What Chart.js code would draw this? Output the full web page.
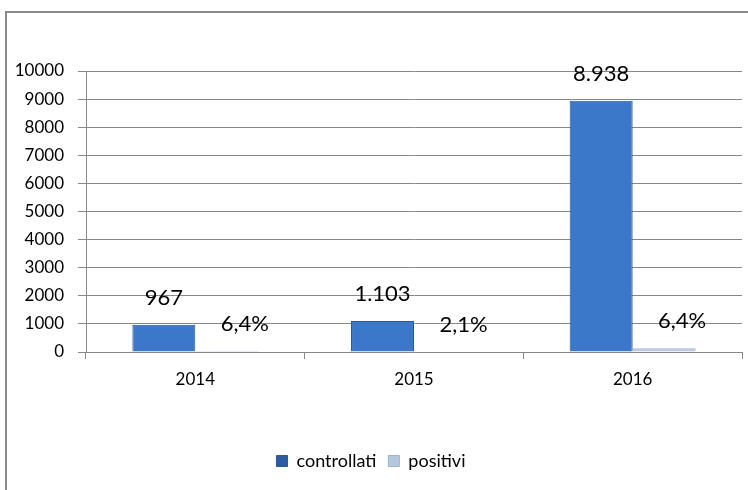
<!DOCTYPE html>
<html>
<head>
<meta charset="utf-8">
<script src="https://cdn.jsdelivr.net/npm/chart.js@4"></script>
<style>
  html, body { margin: 0; padding: 0; background: #fff; }
  #wrap { position: relative; width: 748px; height: 490px; overflow: hidden; }
  #frame { position: absolute; left: 5px; top: 11px; width: 800px; height: 600px; border: 2px solid #8a8a8a; box-sizing: border-box; }
  canvas { position: absolute; left: 0; top: 0; }
</style>
</head>
<body>
<div id="wrap">
  <div id="frame"></div>
  <canvas id="c" width="748" height="490"></canvas>
</div>
<script>
const categories = ["2014", "2015", "2016"];
const controllati = [967, 1103, 8938];
const positivi = [40, 20, 130];
const controllatiLabels = ["967", "1.103", "8.938"];
const positiviLabels = ["6,4%", "2,1%", "6,4%"];
const seriesNames = ["controllati", "positivi"];

const FONT = "Lato, 'Open Sans', sans-serif";

const valueLabels = {
  id: 'valueLabels',
  afterDatasetsDraw(chart) {
    const ctx = chart.ctx;
    ctx.save();
    ctx.font = "22px " + FONT;
    ctx.fillStyle = "#000";
    ctx.textAlign = "center";
    ctx.textBaseline = "middle";
    const sets = [
      { meta: chart.getDatasetMeta(0), labels: controllatiLabels, dx: 0 },
      { meta: chart.getDatasetMeta(1), labels: positiviLabels, dx: 18 }
    ];
    sets.forEach(s => {
      s.meta.data.forEach((bar, i) => {
        ctx.fillText(s.labels[i], bar.x + s.dx, bar.y - 27);
      });
    });
    ctx.restore();
  }
};

function barGradient(context, dark, mid) {
  const chart = context.chart;
  const el = context.element;
  if (!chart.chartArea || !el || el.width === undefined) return mid;
  const x0 = el.x - el.width / 2, x1 = el.x + el.width / 2;
  const g = chart.ctx.createLinearGradient(x0, 0, x1, 0);
  g.addColorStop(0, dark);
  g.addColorStop(0.12, mid);
  g.addColorStop(0.88, mid);
  g.addColorStop(1, dark);
  return g;
}

new Chart(document.getElementById('c'), {
  type: 'bar',
  data: {
    labels: categories,
    datasets: [
      {
        label: seriesNames[0],
        data: controllati,
        backgroundColor: ctx => ctx.type === 'data' ? barGradient(ctx, '#2b5ca3', '#3c78c9') : '#3b74c4',
        borderColor: '#2a5796',
        borderWidth: 1,
        categoryPercentage: 0.576,
        barPercentage: 1.0
      },
      {
        label: seriesNames[1],
        data: positivi,
        backgroundColor: '#b7c6df',
        borderColor: '#9fb2d2',
        borderWidth: 1,
        categoryPercentage: 0.576,
        barPercentage: 1.0
      }
    ]
  },
  options: {
    responsive: false,
    animation: false,
    devicePixelRatio: 1,
    layout: { padding: { top: 71, right: 6, left: 0, bottom: 10 } },
    plugins: {
      tooltip: { enabled: false },
      legend: {
        position: 'bottom',
        labels: {
          font: { family: FONT, size: 18 },
          color: '#000',
          boxWidth: 11,
          boxHeight: 11,
          padding: 12
        }
      }
    },
    scales: {
      x: {
        grid: { drawOnChartArea: false, tickLength: 7, color: '#888' },
        border: { color: '#888', width: 1 },
        ticks: { font: { family: FONT, size: 17 }, color: '#000', padding: 10 },
        afterFit(scale) { scale.height = 88; }
      },
      y: {
        min: 0,
        max: 10000,
        ticks: {
          stepSize: 1000,
          font: { family: FONT, size: 17 },
          color: '#000',
          padding: 14,
          callback: v => String(v)
        },
        grid: { color: '#888', tickLength: 8, lineWidth: 1 },
        border: { color: '#888', width: 1 },
        afterFit(scale) { scale.width = 86; }
      }
    }
  },
  plugins: [valueLabels]
});
</script>
</body>
</html>
